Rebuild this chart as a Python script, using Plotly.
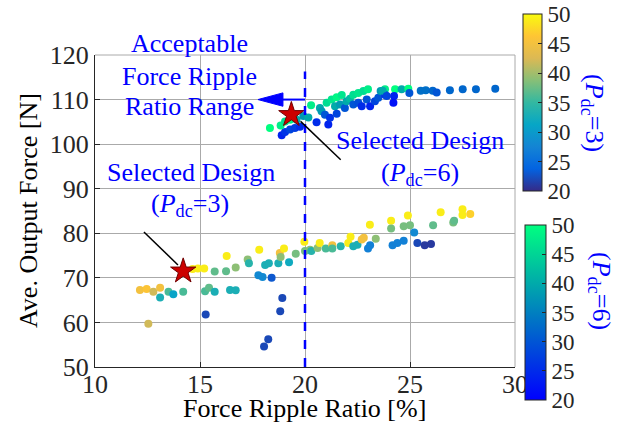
import plotly.graph_objects as go

# ---- P_dc = 3 designs: ripple ratio [%], average force [N], colour value ----
p3_ripple = [12.14, 12.46, 12.78, 13.10, 13.10, 13.50, 13.73, 14.20, 12.54,
             14.65, 14.90, 15.20, 15.24, 15.43, 15.70, 15.70, 15.27, 16.24,
             16.27, 16.43, 16.70, 16.70, 17.27, 17.33, 17.82, 17.78, 17.98,
             18.05, 18.25, 18.41, 18.10, 18.28, 18.73, 18.80, 18.84, 19.00,
             18.92, 18.82, 19.24, 19.56, 19.97, 20.00, 20.24, 20.30, 20.60,
             20.70, 20.99, 21.30, 21.30, 21.70, 22.06, 22.17, 22.30, 22.50,
             22.70, 22.80, 23.00, 23.10, 23.09, 23.37, 24.10, 24.10, 24.17,
             24.40, 24.70, 24.70, 24.90, 25.00, 25.20, 25.35, 25.70, 26.00,
             26.10, 26.46, 27.06, 27.10, 27.50, 27.50, 27.87]
p3_force = [67.3, 67.5, 66.9, 67.8, 65.6, 66.9, 66.3, 66.9, 59.7,
            72.0, 72.1, 72.1, 67.0, 67.8, 66.9, 71.4, 61.8, 71.5,
            74.9, 67.3, 67.2, 72.3, 74.1, 73.3, 76.3, 70.6, 70.2,
            54.6, 56.2, 70.0, 72.9, 73.3, 73.3, 75.6, 74.7, 76.6,
            65.5, 62.5, 73.5, 75.4, 78.1, 76.0, 76.3, 76.0, 76.7,
            77.8, 76.6, 77.3, 76.6, 77.1, 77.8, 79.2, 77.1, 77.4,
            78.6, 79.0, 76.6, 77.3, 81.9, 78.8, 82.8, 81.1, 77.3,
            77.8, 78.3, 81.6, 84.0, 81.8, 80.2, 77.8, 77.3, 77.6,
            81.8, 84.7, 82.4, 82.8, 85.4, 84.1, 84.3]
p3_value = [45, 46, 42, 45, 33, 36, 31, 36, 42,
            49, 49, 49, 36, 37, 33, 37, 22, 37,
            49, 33, 33, 39, 39, 34, 49, 28, 28,
            22, 22, 23, 33, 33, 33, 45, 39, 49,
            22, 22, 32, 38, 49, 38, 39, 34, 39,
            49, 36, 45, 36, 34, 49, 49, 33, 33,
            45, 45, 27, 27, 49, 39, 49, 38, 27,
            27, 27, 38, 49, 38, 28, 22, 21, 21,
            37, 49, 38, 37, 49, 49, 47]

# ---- P_dc = 6 designs ----
p6_ripple = [18.33, 18.89, 19.05, 19.29, 19.52, 19.76, 18.84, 19.05, 19.29,
             19.48, 19.60, 19.92, 20.29, 20.16, 20.55, 20.71, 20.79, 20.95,
             21.11, 21.19, 21.03, 21.27, 21.51, 21.75, 21.43, 21.67, 21.51,
             21.90, 21.98, 22.14, 22.30, 22.54, 22.78, 23.00, 22.30, 22.54,
             22.70, 22.94, 23.10, 23.33, 23.49, 23.60, 23.81, 23.81, 23.70,
             23.89, 24.29, 24.24, 24.21, 24.60, 24.92, 24.97, 25.51, 25.75,
             26.08, 26.27, 26.90, 27.51, 28.14, 29.06]
p6_force = [103.6, 102.0, 102.7, 103.3, 103.6, 103.9, 104.2, 105.1, 105.5,
            106.0, 105.5, 106.3, 108.7, 106.0, 104.9, 108.1, 107.4, 106.6,
            104.4, 105.9, 109.3, 110.0, 110.5, 111.0, 108.5, 108.9, 106.8,
            108.1, 109.6, 110.2, 111.1, 111.5, 111.9, 112.3, 108.9, 109.3,
            108.5, 110.0, 108.5, 109.6, 110.4, 111.9, 112.3, 111.1, 112.0,
            110.8, 112.3, 110.8, 109.3, 112.3, 112.4, 111.5, 112.0, 112.1,
            112.0, 111.6, 112.1, 112.3, 112.3, 112.4]
p6_value = [50, 24, 26, 28, 27, 25, 48, 46, 49,
            48, 40, 38, 48, 40, 25, 40, 38, 30,
            24, 26, 46, 47, 49, 47, 40, 38, 28,
            30, 40, 42, 46, 47, 46, 48, 30, 29,
            25, 30, 24, 28, 30, 38, 48, 26, 40,
            28, 50, 24, 22, 40, 50, 30, 33, 33,
            32, 30, 32, 32, 32, 32]

# ---- selected designs ----
sel_ripple = [14.2, 19.35]
sel_force = [71.5, 106.6]

cbar_ticks = [20, 25, 30, 35, 40, 45, 50]
x_ticks = [10, 15, 20, 25, 30]
y_ticks = [50, 60, 70, 80, 90, 100, 110, 120]
ripple_limit = 20

parula = [[0.000, "rgb(53,42,135)"], [0.125, "rgb(3,99,225)"],
          [0.250, "rgb(20,132,212)"], [0.375, "rgb(6,166,198)"],
          [0.500, "rgb(51,184,161)"], [0.625, "rgb(135,191,119)"],
          [0.750, "rgb(220,185,84)"], [0.875, "rgb(254,197,52)"],
          [1.000, "rgb(249,251,14)"]]
winter = [[0.0, "rgb(0,0,255)"], [1.0, "rgb(0,255,128)"]]

FONT = "Liberation Serif, Times New Roman, serif"
BLUE = "#0000ff"
W, H = 631, 423
# plot area in pixels
PL, PR, PT, PB = 95, 515, 55, 367
PW, PH = PR - PL, PB - PT

fig = go.Figure()
fig.add_trace(go.Scatter(
    x=p3_ripple, y=p3_force, mode="markers", name="P_dc=3",
    marker=dict(size=8, color=p3_value, coloraxis="coloraxis")))
fig.add_trace(go.Scatter(
    x=p6_ripple, y=p6_force, mode="markers", name="P_dc=6",
    marker=dict(size=8, color=p6_value, coloraxis="coloraxis2")))

# ripple limit line and arrow
fig.add_shape(type="line", x0=ripple_limit, x1=ripple_limit, y0=50, y1=116.3,
              line=dict(color=BLUE, width=2.5, dash="dash"))
fig.add_shape(type="line", x0=18.9, x1=ripple_limit, y0=110, y1=110,
              line=dict(color=BLUE, width=2))
fig.add_shape(type="path", path="M 17.76 110 L 18.95 111.5 L 18.95 108.5 Z",
              fillcolor=BLUE, line=dict(color=BLUE, width=1))

# leader lines to the selected designs
fig.add_shape(type="line", x0=12.33, y0=80.3, x1=13.95, y1=72.9,
              line=dict(color="black", width=1.5))
fig.add_shape(type="line", x0=19.79, y0=105.1, x1=21.7, y1=96.5,
              line=dict(color="black", width=1.5))

fig.add_trace(go.Scatter(
    x=sel_ripple, y=sel_force, mode="markers", name="Selected",
    marker=dict(symbol="star", size=19, color="#cc0000",
                line=dict(color="#700000", width=1))))


def cbar(top_px, left_px, length, thick):
    return dict(x=(left_px - PL) / PW, xanchor="left",
                y=(PB - top_px) / PH, yanchor="top",
                lenmode="fraction", len=length / PH, thickness=thick,
                xpad=0, ypad=0, outlinewidth=1, outlinecolor="#262626",
                tickvals=cbar_ticks, ticks="inside", ticklen=4,
                tickcolor="#262626",
                tickfont=dict(family=FONT, size=23, color="#262626"))


fig.update_layout(
    width=W, height=H, autosize=False,
    margin=dict(l=PL, r=W - PR, t=PT, b=H - PB),
    paper_bgcolor="white", plot_bgcolor="white",
    showlegend=False,
    font=dict(family=FONT, size=26, color="#262626"),
    coloraxis=dict(colorscale=parula, cmin=20, cmax=50,
                   colorbar=cbar(14, 523, 177, 19)),
    coloraxis2=dict(colorscale=winter, cmin=20, cmax=50,
                    colorbar=cbar(225, 525, 175, 21)),
    xaxis=dict(range=[10, 30], tickvals=x_ticks, showgrid=True,
               gridcolor="#aaaaaa", gridwidth=1, zeroline=False,
               showline=True, linecolor="#262626", linewidth=1,
               ticks="inside", ticklen=5, tickcolor="#262626",
               ticklabelstandoff=-6,
               tickfont=dict(family=FONT, size=26, color="#262626")),
    yaxis=dict(range=[50, 120], tickvals=y_ticks, showgrid=True,
               gridcolor="#aaaaaa", gridwidth=1, zeroline=False,
               showline=True, linecolor="#262626", linewidth=1,
               ticks="inside", ticklen=5, tickcolor="#262626",
               tickfont=dict(family=FONT, size=26, color="#262626")),
)

# top and right frame in grid gray
fig.add_shape(type="line", xref="paper", yref="paper", x0=0, x1=1, y0=1, y1=1,
              line=dict(color="#aaaaaa", width=1))
fig.add_shape(type="line", xref="paper", yref="paper", x0=1, x1=1, y0=0, y1=1,
              line=dict(color="#aaaaaa", width=1))

ann_font = dict(family=FONT, size=26, color=BLUE)


def px_to_paper(px, py):
    return (px - PL) / PW, (PB - py) / PH


# text blocks: (centre x px, centre y px, text)
text_lines = [
    (189, 44, "Acceptable"),
    (189, 76, "Force Ripple"),
    (189, 107, "Ratio Range"),
    (191, 172, "Selected Design"),
    (190, 205, "(<i>P</i><sub>dc</sub>=3)"),
    (420, 140, "Selected Design"),
    (420, 174, "(<i>P</i><sub>dc</sub>=6)"),
]
for cx, cy, txt in text_lines:
    xp, yp = px_to_paper(cx, cy)
    fig.add_annotation(xref="paper", yref="paper", x=xp, y=yp, text=txt,
                       showarrow=False, font=ann_font,
                       xanchor="center", yanchor="middle")

# colourbar captions
for cx, cy, txt in [(593, 113, "(<i>P</i><sub>dc</sub>=3)"),
                    (600, 291, "(<i>P</i><sub>dc</sub>=6)")]:
    xp, yp = px_to_paper(cx, cy)
    fig.add_annotation(xref="paper", yref="paper", x=xp, y=yp,
                       showarrow=False, textangle=90, text=txt,
                       font=ann_font, xanchor="center", yanchor="middle")

# axis titles
xp, yp = px_to_paper(304, 408)
fig.add_annotation(xref="paper", yref="paper", x=xp, y=yp, showarrow=False,
                   text="Force Ripple Ratio [%]",
                   font=dict(family=FONT, size=26, color="black"),
                   xanchor="center", yanchor="middle")
xp, yp = px_to_paper(28, 211)
fig.add_annotation(xref="paper", yref="paper", x=xp, y=yp,
                   showarrow=False, textangle=-90,
                   text="Ave. Output Force [N]",
                   font=dict(family=FONT, size=26, color="black"),
                   xanchor="center", yanchor="middle")

fig.write_html("out.html")
